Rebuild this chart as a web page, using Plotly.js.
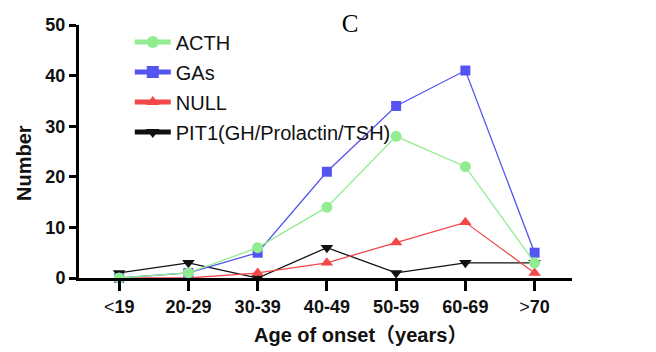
<!DOCTYPE html>
<html><head><meta charset="utf-8">
<script src="https://cdn.plot.ly/plotly-3.0.1.min.js"></script>
<style>body{margin:0;background:#fff}#c{width:656px;height:352px}</style>
</head><body><div id="c"></div>
<script>
const categories = ["<19","20-29","30-39","40-49","50-59","60-69",">70"];
const acth = [0,1,6,14,28,22,3];
const gas = [0,1,5,21,34,41,5];
const nullGroup = [0,0,1,3,7,11,1];
const pit1 = [1,3,0,6,1,3,3];
const seriesNames = ["ACTH","GAs","NULL","PIT1(GH/Prolactin/TSH)"];
const xTitle = "Age of onset（years）";
const yTitle = "Number";
const chartTitle = "C";

const xIdx = categories.map((_, i) => i);
// the comparison signs are drawn thin in the reference
const tickText = categories.map(c => c
  .replace('<', '<span style="font-weight:normal">&lt;</span>')
  .replace(/^>/, '<span style="font-weight:normal">&gt;</span>'));

function tr(name, y, color, symbol, size, rank) {
  return {x: xIdx, y: y, name: name, legendgroup: name, legendrank: rank,
    type: 'scatter', mode: 'lines+markers',
    line: {color: color, width: 1.3},
    marker: {color: color, symbol: symbol, size: size},
    cliponaxis: false};
}
const data = [
  tr(seriesNames[3], pit1, '#111111', 'triangle-down', 11, 4),
  tr(seriesNames[2], nullGroup, '#f24848', 'triangle-up', 11, 3),
  tr(seriesNames[1], gas, '#5454f0', 'square', 10, 2),
  tr(seriesNames[0], acth, '#92ec92', 'circle', 11, 1)
];
const font = 'Arial, "Liberation Sans", "Noto Sans CJK SC", sans-serif';
const layout = {
  width: 656, height: 352,
  margin: {l: 79, r: 84, t: 25, b: 74},
  paper_bgcolor: '#fff', plot_bgcolor: '#fff',
  showlegend: true,
  legend: {x: 0.103, y: 1.01, xanchor: 'left', yanchor: 'top', traceorder: 'grouped',
    font: {family: font, size: 20, color: '#111'}, bgcolor: 'rgba(0,0,0,0)', tracegroupgap: 1,
    itemsizing: 'constant', itemwidth: 36},
  title: {text: chartTitle, x: 350/656, xanchor: 'center', y: 0.935, yanchor: 'middle',
    font: {family: '"Liberation Serif", "Times New Roman", serif', size: 25, color: '#000'}},
  xaxis: {
    tickmode: 'array', tickvals: xIdx, ticktext: tickText,
    range: [-0.58, 6.54], showgrid: false, zeroline: false,
    showline: true, linewidth: 3, linecolor: '#000',
    ticks: 'outside', ticklen: 10, tickwidth: 3, tickcolor: '#000',
    tickfont: {family: font, size: 18, color: '#111', weight: 'bold'}
  },
  yaxis: {
    range: [0, 50], dtick: 10, showgrid: false, zeroline: false,
    showline: true, linewidth: 3, linecolor: '#000',
    ticks: 'outside', ticklen: 7, tickwidth: 3, tickcolor: '#000',
    tickfont: {family: font, size: 18, color: '#111', weight: 'bold'}
  },
  annotations: [
    {text: xTitle, xref: 'paper', yref: 'paper', x: 0.570, y: -0.225,
      xanchor: 'center', yanchor: 'middle', showarrow: false,
      font: {family: font, size: 20, color: '#111', weight: 'bold'}},
    {text: yTitle, xref: 'paper', yref: 'paper', x: -0.1116, y: 0.4545,
      xanchor: 'center', yanchor: 'middle', showarrow: false, textangle: -90,
      font: {family: font, size: 20, color: '#111', weight: 'bold'}}
  ]
};
Plotly.newPlot('c', data, layout, {displayModeBar: false, staticPlot: true});
</script></body></html>
